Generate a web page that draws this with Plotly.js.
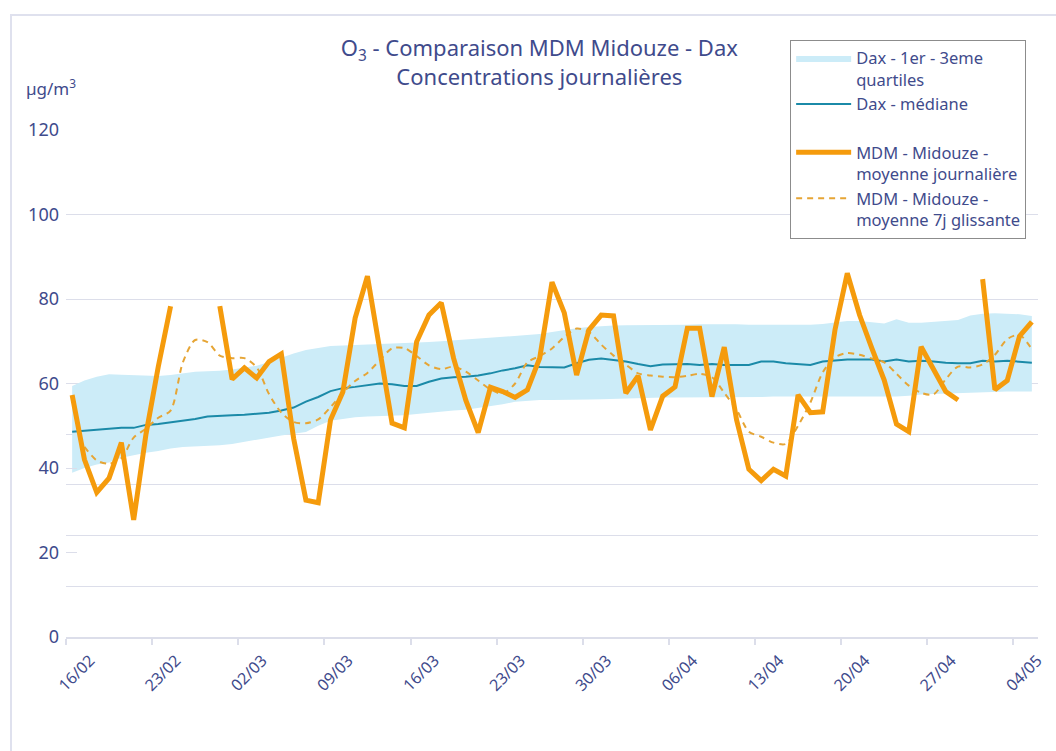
<!DOCTYPE html>
<html>
<head>
<meta charset="utf-8">
<script src="https://cdn.plot.ly/plotly-3.0.1.min.js"></script>
<style>
  body { margin: 0; background: #fff; }
  #plot { width: 1056px; height: 751px; }
  #frame { position: absolute; left: 10px; top: 14px; width: 1100px; height: 800px;
           border: 2px solid #dfe1ee; pointer-events: none; }
</style>
</head>
<body>
<div id="plot"></div>
<div id="frame"></div>
<script>
// first day of the series (one value per day, plotted at noon)
const startDay = '2021-02-16';

// MDM Midouze - daily mean (null = no data)
const mdmDaily = [57.3, 42, 34.2, 37.6, 46, 27.7, 48, 64, 78.3, null, null, null,
  78.3, 61, 63.7, 61.3, 65.2, 67, 47, 32.4, 31.8, 51.4, 58, 75.5, 85.4, 68.5, 50.6, 49.5,
  69.9, 76.2, 79.1, 66, 56, 48.4, 59.1, 58.1, 56.7, 58.5,
  66, 84, 76.7, 62, 72.7, 76.2, 76, 57.7, 61.8, 49,
  57, 59.2, 73.1, 73.1, 56.9, 68.6, 51.4, 39.7, 37, 39.7,
  38.1, 57.3, 53.1, 53.3, 72.7, 86.1, 76.2, 68.3, 60.8, 50.4,
  48.6, 68.7, 63.2, 58.1, 56.1, null, 84.7, 58.5, 60.7, 71.2, 74.6];

// MDM Midouze - 7 day rolling mean
const mdm7j = [null, 45, 41.8, 41, 42.3, 47.2, 49.3, 51.9, 53.6, 65,
  70.3, 69.8, 66.6, 66, 66, 63.8, 57.5, 53.1, 50.9, 50.6,
  51.5, 54.4, 57.8, 60.6, 62.5, 65.5, 68.3, 68.4, 66.5, 64.3,
  63.4, 64, 62.8, 60.7, 58.6, 57.6, 60, 65, 66.5, 68.3,
  71, 73, 72.2, 69.2, 66.6, 64.5, 62.4, 61.9, 61.6, 61.5,
  61.8, 62.3, 61.5, 57.8, 53.8, 48.6, 47.4, 46, 45.7, 50,
  55.5, 62.6, 66.2, 67.2, 66.8, 65.9, 65, 62.3, 59.5, 57.8,
  57.4, 61, 64, 63.8, 64.5, 66.8, 70.5, 71.5, 68.1];

// Dax - median
const daxMedian = [48.6, 48.8, 49.0, 49.3, 49.5, 49.5, 50.2, 50.4, 50.8, 51.2,
  51.6, 52.2, 52.4, 52.5, 52.6, 52.8, 53.1, 53.6, 54.3, 55.7,
  56.8, 58.2, 58.9, 59.2, 59.6, 60.0, 59.8, 59.4, 59.4, 60.4,
  61.2, 61.5, 61.6, 61.9, 62.4, 63.1, 63.6, 64.3, 63.9, 63.8,
  63.8, 64.8, 65.6, 65.9, 65.6, 65.2, 64.6, 64.1, 64.5, 64.6,
  64.6, 64.4, 64.6, 64.4, 64.4, 64.4, 65.2, 65.2, 64.8, 64.6,
  64.4, 65.2, 65.4, 65.7, 65.7, 65.7, 65.2, 65.7, 65.2, 65.4,
  65.2, 64.9, 64.8, 64.8, 65.4, 65.2, 65.4, 65.2, 64.9];

// Dax - 1st quartile
const daxQ1 = [38.9, 40.0, 40.8, 41.3, 42.4, 43.0, 43.6, 44.0, 44.6, 45.0,
  45.1, 45.2, 45.4, 45.7, 46.2, 46.8, 47.2, 47.7, 48.1, 48.5,
  50.0, 51.2, 51.6, 52.0, 52.2, 52.3, 52.3, 52.5, 52.8, 53.1,
  53.3, 53.6, 53.8, 54.2, 54.6, 55.1, 55.7, 55.9, 56.1, 56.1,
  56.1, 56.1, 56.2, 56.3, 56.4, 56.5, 56.6, 56.6, 56.7, 56.7,
  56.7, 56.7, 56.7, 56.7, 56.8, 56.8, 56.8, 56.9, 56.9, 56.9,
  56.9, 57.0, 57.0, 57.0, 57.0, 57.0, 56.9, 56.9, 57.1, 57.4,
  57.5, 57.6, 57.8, 57.9, 58.0, 58.1, 58.1, 58.1, 58.1];

// Dax - 3rd quartile
const daxQ3 = [59.4, 60.7, 61.6, 62.2, 62.1, 62.0, 61.9, 61.8, 62.0, 62.4,
  62.8, 62.9, 63.0, 63.3, 63.7, 64.2, 65.1, 66.1, 67.1, 67.9,
  68.4, 68.9, 69.0, 69.1, 69.2, 69.3, 69.5, 69.6, 69.7, 69.8,
  70.0, 70.2, 70.5, 70.7, 70.8, 71.0, 71.2, 71.5, 71.7, 72.2,
  72.7, 73.1, 73.4, 73.6, 73.7, 73.8, 73.8, 73.8, 73.8, 73.8,
  73.9, 74.0, 74.0, 74.1, 74.0, 73.9, 73.9, 73.8, 73.8, 73.8,
  73.9, 74.1, 74.5, 74.8, 74.8, 74.5, 74.2, 75.2, 74.4, 74.4,
  74.6, 74.7, 75.0, 76.1, 76.5, 76.6, 76.5, 76.4, 76.0];

const gridVals = [12, 24, 36, 48, 60, 80, 100, 120];

let days = [];
for (let i = 0; i < daxMedian.length; i++) {
    let d = new Date(startDay + 'T12:00:00Z');
    d.setUTCDate(d.getUTCDate() + i);
    days.push(d.toISOString().slice(0, 10) + ' 12:00');
}

const navy = '#3f4b8c';
const grid = '#dcdeea';

let q1Trace = {
    x: days, y: daxQ1, type: 'scatter', mode: 'lines',
    line: {width: 0, color: '#ccecf8'},
    legendgroup: 'dax', showlegend: false, hoverinfo: 'skip'
};

let q3Trace = {
    x: days, y: daxQ3, type: 'scatter', mode: 'lines',
    fill: 'tonexty', fillcolor: '#ccecf8',
    line: {width: 0, color: '#ccecf8'},
    name: 'Dax - 1er - 3eme<br>quartiles', legendgroup: 'dax', legendrank: 1
};

let medianTrace = {
    x: days, y: daxMedian, type: 'scatter', mode: 'lines',
    line: {width: 2, color: '#1b8aa8'},
    name: 'Dax - médiane', legendgroup: 'dax', legendrank: 2
};

let rollTrace = {
    x: days, y: mdm7j, type: 'scatter', mode: 'lines',
    line: {width: 2, color: '#e6a535', dash: '6px,5px', shape: 'spline', smoothing: 0.8},
    name: 'MDM - Midouze -<br>moyenne 7j glissante', legendgroup: 'mdm', legendrank: 4
};

let dailyTrace = {
    x: days, y: mdmDaily, type: 'scatter', mode: 'lines',
    line: {width: 5, color: '#f59b0c'},
    connectgaps: false,
    name: 'MDM - Midouze -<br>moyenne journalière', legendgroup: 'mdm', legendrank: 3
};

let data = [q1Trace, q3Trace, medianTrace, rollTrace, dailyTrace];

let layout = {
    width: 1056, height: 751,
    paper_bgcolor: '#fff', plot_bgcolor: '#fff',
    font: {family: 'Noto Sans, sans-serif', color: navy, size: 15},
    margin: {l: 66, r: 18, t: 130, b: 114},
    showlegend: true,
    title: {
        text: 'O<sub>3</sub> - Comparaison MDM Midouze - Dax<br>Concentrations journalières',
        font: {size: 22, color: navy},
        xref: 'paper', x: 0.487, xanchor: 'center',
        yref: 'container', y: 0.925, yanchor: 'top'
    },
    xaxis: {
        type: 'date',
        range: ['2021-02-16', '2021-05-06'],
        tick0: '2021-02-16', dtick: 7 * 86400000,
        tickformat: '%d/%m', tickangle: -45,
        tickfont: {size: 16, color: navy},
        ticks: 'outside', ticklen: 6, tickcolor: grid, tickwidth: 1.5,
        showline: true, linecolor: grid, linewidth: 2,
        showgrid: false, zeroline: false,
        ticklabelshift: 24, ticklabelstandoff: 0
    },
    yaxis: {
        range: [0, 120],
        tickvals: [0, 20, 40, 60, 80, 100, 120],
        tickfont: {size: 18, color: navy},
        showgrid: false, zeroline: false, showline: false,
        ticks: 'inside', ticklen: 11, tickcolor: grid,
        ticklabelstandoff: 6
    },
    yaxis2: {
        overlaying: 'y', range: [0, 120],
        tickvals: gridVals, showticklabels: false,
        showgrid: true, gridcolor: grid, gridwidth: 1.2,
        zeroline: false, showline: false, ticks: ''
    },
    legend: {
        x: 0.745, xanchor: 'left', y: 1.178, yanchor: 'top',
        bgcolor: '#fff', bordercolor: '#8c8c8c', borderwidth: 1,
        font: {size: 16.5, color: navy},
        itemwidth: 55, valign: 'top', tracegroupgap: 24,
        traceorder: 'grouped'
    },
    annotations: [{
        text: 'µg/m<sup>3</sup>', showarrow: false,
        xref: 'paper', yref: 'paper', x: -0.043, xanchor: 'left',
        y: 1.083, yanchor: 'middle',
        font: {size: 17, color: navy}
    }]
};

// empty trace on y2 so the extra gridlines are drawn
data.push({x: [days[0]], y: [null], yaxis: 'y2', type: 'scatter', showlegend: false, hoverinfo: 'skip'});

Plotly.newPlot('plot', data, layout, {displayModeBar: false});
</script>
</body>
</html>
